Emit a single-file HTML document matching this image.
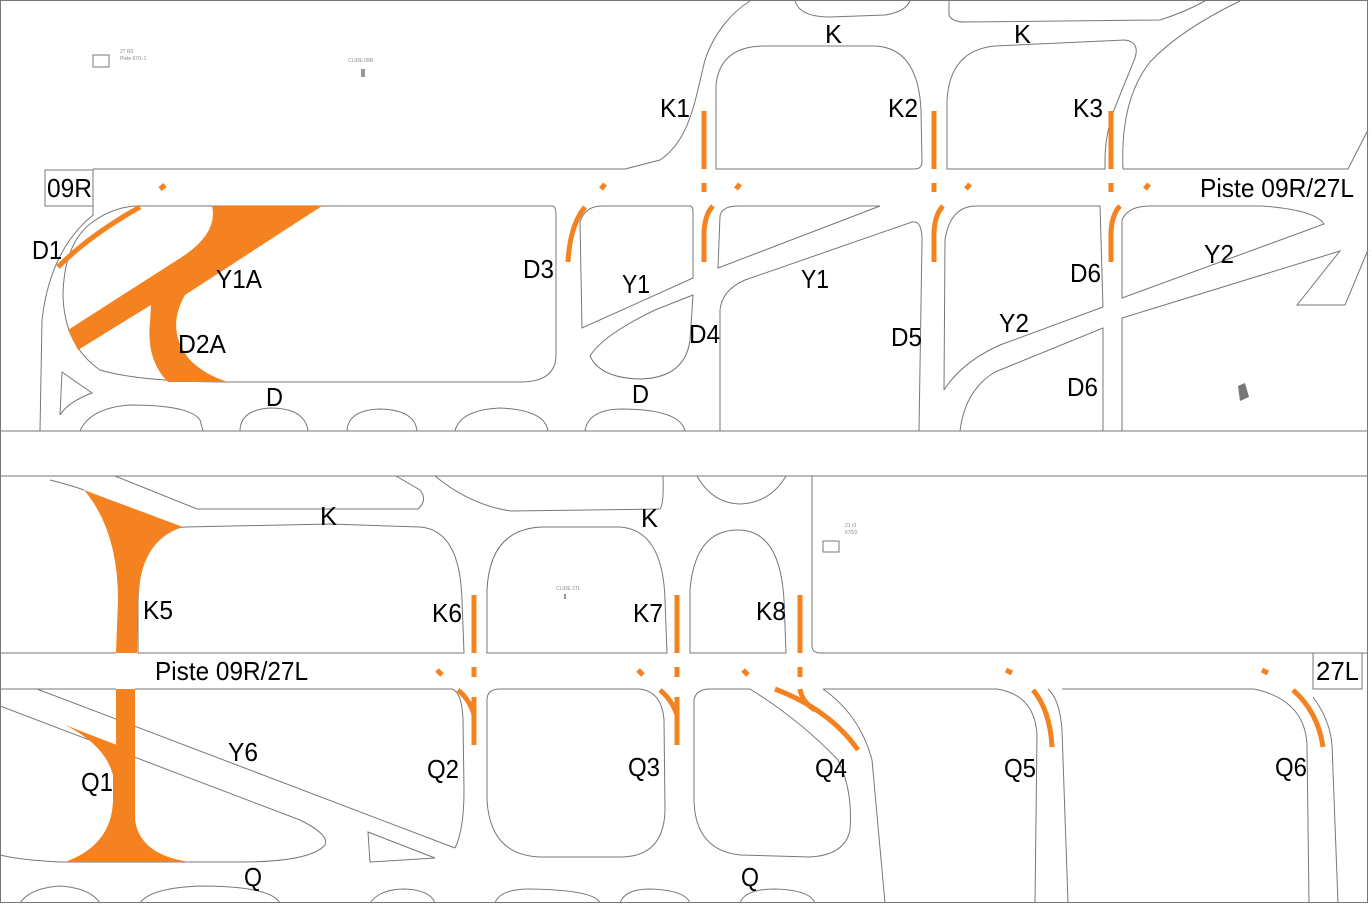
<!DOCTYPE html>
<html><head><meta charset="utf-8"><style>
html,body{margin:0;padding:0;background:#fff}
svg{display:block}
text{font-family:"Liberation Sans",sans-serif;fill:#000}
.l{fill:none;stroke:#777;stroke-width:1}
.o{fill:none;stroke:#f58220;stroke-width:5}
.of{fill:#f58220;stroke:none}
</style></head><body>
<svg width="1372" height="905" viewBox="0 0 1372 905" xmlns="http://www.w3.org/2000/svg">
<rect x="0.5" y="0.5" width="1367" height="902" class="l"/>
<line x1="0" y1="431" x2="1368" y2="431" class="l"/>
<line x1="0" y1="476" x2="1368" y2="476" class="l"/>

<rect x="45" y="170" width="48" height="36" class="l" stroke="#333"/>
<path class="l" d="M93,169 L625,169 L660,160 C690,140 695,100 705,60 C715,30 735,10 750,1"/>
<path class="l" d="M795,1 Q800,17 830,17 L885,15 Q905,12 910,1"/>
<path class="l" d="M949,1 L949,15 Q952,22 965,22 L1160,20 Q1185,12 1205,1"/>
<path class="l" d="M716,169 L716,85 Q720,46 765,46 L875,46 Q918,48 921,110 L922,162 Q922,169 914,169 Z"/>
<path class="l" d="M947,169 L947,100 Q950,50 995,46 L1125,40 Q1140,42 1135,58 L1118,100 Q1105,130 1105,160 L1105,169 Z"/>
<path class="l" d="M1123,169 Q1120,100 1150,62 Q1180,30 1240,1"/>
<path class="l" d="M1123,169 L1348,169 L1368,130"/>
<path class="l" d="M93,206 L93,215 Q50,250 42,320 L40,431"/>
<path class="l" d="M135,206 L552,206 Q556,206 556,215 L556,355 Q556,382 520,382 L230,382 Q140,382 100,370 Q64,345 63,295 Q64,245 90,224 Q110,208 135,206 Z"/>
<path class="l" d="M62,372 L92,393 Q68,402 60,415 Z"/>
<path class="l" d="M80,431 Q90,408 130,405 Q190,405 200,420 L203,431"/>
<path class="l" d="M240,431 Q240,410 270,408 Q305,408 308,431"/>
<path class="l" d="M347,431 Q348,410 380,409 Q415,410 417,431"/>
<path class="l" d="M455,431 Q460,410 500,408 Q545,410 548,431"/>
<path class="l" d="M585,431 Q588,410 620,409 Q680,409 685,431"/>
<path class="l" d="M580,222 Q585,206 602,206 L690,206 Q693,206 693,212 L693,278 L582,328 Z"/>
<path class="l" d="M693,295 L655,310 Q603,335 590,356 Q600,378 640,379 Q685,378 690,340 Z"/>
<path class="l" d="M720,216 Q722,206 738,206 L880,206 L718,268 Z"/>
<path class="l" d="M720,431 L720,310 Q722,290 745,280 L912,222 Q922,220 922,240 L919,431"/>
<path class="l" d="M944,390 L945,240 Q950,207 975,206 L1100,206 L1103,307 L1000,345 Q962,362 944,390"/>
<path class="l" d="M1103,431 L1103,328 L995,372 Q965,390 960,431"/>
<path class="l" d="M1122,298 L1122,220 Q1128,206 1150,206 L1262,206 Q1315,210 1324,224 Z"/>
<path class="l" d="M1122,431 L1122,318 L1340,251 L1297,305 L1345,305 L1368,250"/>
<polygon points="1238,386 1245,383 1249,397 1240,401" fill="#777"/>
<rect x="93" y="55" width="16" height="12" class="l"/>
<text x="120" y="53" font-size="5" style="fill:#888">27 R3</text>
<text x="120" y="60" font-size="5" style="fill:#888">Piste 670..1</text>
<text x="348" y="62" font-size="5" style="fill:#888">CLIDE 09R</text>
<rect x="361" y="69" width="4" height="8" fill="#999"/>

<path class="o" d="M58,267 Q90,235 140,207"/>
<path class="of" d="M212,206 L322,206 L185,295 Q165,330 190,360 Q205,375 228,382 L168,382 Q146,360 150,322 L151,305 L78,350 L68,330 L185,255 Q218,232 212,206 Z"/>
<path class="o" stroke-width="4" d="M568,262 Q570,225 585,207"/>
<g class="o" stroke-width="4">
<line x1="160" y1="189" x2="165" y2="185"/>
<line x1="601" y1="189" x2="605" y2="184"/>
<line x1="736" y1="189" x2="740" y2="184"/>
<line x1="966" y1="189" x2="970" y2="184"/>
<line x1="1145" y1="189" x2="1149" y2="184"/>
</g>
<g class="o">
<line x1="704" y1="111" x2="704" y2="169"/><line x1="704" y1="183" x2="704" y2="192"/>
<path d="M704,262 L704,232 Q705,214 713,206"/>
<line x1="934" y1="111" x2="934" y2="169"/><line x1="934" y1="183" x2="934" y2="192"/>
<path d="M934,262 L934,232 Q935,214 943,206"/>
<line x1="1111" y1="111" x2="1111" y2="169"/><line x1="1111" y1="183" x2="1111" y2="192"/>
<path d="M1111,262 L1111,232 Q1112,214 1120,206"/>
</g>

<g font-size="26">
<text x="825" y="43" textLength="17" lengthAdjust="spacingAndGlyphs">K</text><text x="1014" y="43" textLength="17" lengthAdjust="spacingAndGlyphs">K</text>
<text x="660" y="117" textLength="30" lengthAdjust="spacingAndGlyphs">K1</text><text x="888" y="117" textLength="30" lengthAdjust="spacingAndGlyphs">K2</text><text x="1073" y="117" textLength="30" lengthAdjust="spacingAndGlyphs">K3</text>
<text x="47" y="197" textLength="45" lengthAdjust="spacingAndGlyphs">09R</text>
<text x="1200" y="197" textLength="154" lengthAdjust="spacingAndGlyphs">Piste 09R/27L</text>
<text x="32" y="259" textLength="30" lengthAdjust="spacingAndGlyphs">D1</text><text x="216" y="288" textLength="46" lengthAdjust="spacingAndGlyphs">Y1A</text><text x="523" y="278" textLength="31" lengthAdjust="spacingAndGlyphs">D3</text>
<text x="622" y="293" textLength="28" lengthAdjust="spacingAndGlyphs">Y1</text><text x="801" y="288" textLength="28" lengthAdjust="spacingAndGlyphs">Y1</text><text x="1070" y="282" textLength="31" lengthAdjust="spacingAndGlyphs">D6</text>
<text x="1204" y="263" textLength="30" lengthAdjust="spacingAndGlyphs">Y2</text><text x="178" y="353" textLength="48" lengthAdjust="spacingAndGlyphs">D2A</text><text x="689" y="343" textLength="31" lengthAdjust="spacingAndGlyphs">D4</text>
<text x="891" y="346" textLength="31" lengthAdjust="spacingAndGlyphs">D5</text><text x="999" y="332" textLength="30" lengthAdjust="spacingAndGlyphs">Y2</text><text x="1067" y="396" textLength="31" lengthAdjust="spacingAndGlyphs">D6</text>
<text x="266" y="406" textLength="17" lengthAdjust="spacingAndGlyphs">D</text><text x="632" y="403" textLength="17" lengthAdjust="spacingAndGlyphs">D</text>
</g>

<path class="l" d="M50,480 Q70,485 84,490"/>
<path class="l" d="M115,476 L197,509 L418,509 Q428,500 420,490 L396,476"/>
<path class="l" d="M435,476 Q470,505 511,511 L660,509 Q664,505 663,476"/>
<path class="l" d="M697,476 Q712,503 740,504 Q770,503 786,476"/>
<path class="l" d="M812,476 L812,645 Q812,653 820,653 L1368,653"/>
<path class="l" d="M0,653 L116,653"/>
<path class="l" d="M138,653 L138,600 Q140,530 185,527 L330,524 L420,527 Q460,530 462,600 L464,653 Z"/>
<path class="l" d="M487,653 L487,590 Q490,527 545,527 L620,527 Q663,530 665,600 L667,653 Z"/>
<path class="l" d="M690,653 L690,590 Q695,530 738,530 Q780,530 784,600 L786,653 Z"/>
<rect x="1313" y="653" width="49" height="36" class="l" stroke="#333"/>
<path class="l" d="M0,689 L116,689"/>
<path class="l" d="M37,689 L455,848"/>
<path class="l" d="M135,689 L452,689 Q462,692 463,720 L464,790 Q464,830 455,848"/>
<path class="l" d="M0,706 L300,820 Q330,835 325,845 Q310,862 240,862 L60,862 Q20,860 0,855"/>
<path class="l" d="M368,832 L435,858 L370,862 Z"/>
<path class="l" d="M487,700 Q487,689 500,689 L640,689 Q662,692 664,720 L665,810 Q664,857 620,857 L540,857 Q490,855 487,800 Z"/>
<path class="l" d="M694,700 Q696,689 710,689 L750,689 Q800,720 838,760 Q853,790 850,830 Q845,855 810,857 L740,855 Q695,850 694,800 Z"/>
<path class="l" d="M823,689 L997,689 Q1035,695 1037,735 L1035,903"/>
<path class="l" d="M823,689 Q860,715 872,760 L885,903"/>
<path class="l" d="M1048,689 Q1060,700 1062,730 L1068,903"/>
<path class="l" d="M1062,689 L1254,689 Q1305,700 1307,745 L1309,903"/>
<path class="l" d="M1313,697 Q1330,720 1332,745 L1338,903"/>
<path class="l" d="M20,903 Q30,888 60,886 Q90,888 100,903"/>
<path class="l" d="M140,903 Q150,888 200,886 Q270,886 280,903"/>
<path class="l" d="M370,903 Q380,889 405,889 Q430,890 435,903"/>
<path class="l" d="M495,903 Q500,889 530,889 Q595,890 600,903"/>
<path class="l" d="M620,903 Q625,889 650,889 Q685,890 690,903"/>
<path class="l" d="M740,903 Q745,889 775,889 Q810,890 815,903"/>
<rect x="823" y="541" width="16" height="11" class="l"/>
<text x="845" y="527" font-size="5" style="fill:#888">21 r3</text>
<text x="845" y="534" font-size="5" style="fill:#888">670/2</text>
<text x="556" y="590" font-size="5" style="fill:#888">CLIDE 27L</text>
<rect x="564" y="594" width="2" height="5" fill="#999"/>

<path class="of" d="M84,490 L183,527 Q140,540 138,600 L137,653 L116,653 L118,600 Q118,530 84,490 Z"/>
<rect x="116" y="689" width="19" height="85" class="of"/>
<path class="of" d="M65,725 L135,752 L135,820 Q140,855 190,862 L65,862 Q112,845 113,800 L113,775 Q105,745 65,725 Z"/>
<g class="o" stroke-width="4">
<line x1="437" y1="670" x2="442" y2="675"/>
<line x1="638" y1="670" x2="643" y2="675"/>
<line x1="743" y1="670" x2="748" y2="675"/>
<line x1="1006" y1="670" x2="1012" y2="673"/>
<line x1="1262" y1="670" x2="1268" y2="673"/>
</g>
<g class="o">
<line x1="474" y1="595" x2="474" y2="653"/><line x1="474" y1="667" x2="474" y2="677"/>
<line x1="474" y1="697" x2="474" y2="745"/><path d="M458,690 Q470,700 474,715"/>
<line x1="677" y1="595" x2="677" y2="653"/><line x1="677" y1="667" x2="677" y2="677"/>
<line x1="677" y1="697" x2="677" y2="745"/><path d="M660,690 Q672,700 677,715"/>
<line x1="800" y1="595" x2="800" y2="653"/><line x1="800" y1="667" x2="800" y2="677"/>
<path d="M1033,690 Q1050,710 1052,747"/>
<path d="M1293,690 Q1318,712 1323,747"/>
</g>
<path class="o" stroke-width="7" d="M775,689 Q830,710 858,750"/>
<path class="o" d="M800,689 Q802,702 815,710"/>

<g font-size="26">
<text x="320" y="525" textLength="17" lengthAdjust="spacingAndGlyphs">K</text><text x="641" y="527" textLength="17" lengthAdjust="spacingAndGlyphs">K</text>
<text x="143" y="619" textLength="30" lengthAdjust="spacingAndGlyphs">K5</text><text x="432" y="622" textLength="30" lengthAdjust="spacingAndGlyphs">K6</text><text x="633" y="622" textLength="30" lengthAdjust="spacingAndGlyphs">K7</text><text x="756" y="620" textLength="30" lengthAdjust="spacingAndGlyphs">K8</text>
<text x="155" y="680" textLength="153" lengthAdjust="spacingAndGlyphs">Piste 09R/27L</text>
<text x="1316" y="680" textLength="43" lengthAdjust="spacingAndGlyphs">27L</text>
<text x="228" y="761" textLength="30" lengthAdjust="spacingAndGlyphs">Y6</text>
<text x="81" y="791" textLength="32" lengthAdjust="spacingAndGlyphs">Q1</text><text x="427" y="778" textLength="32" lengthAdjust="spacingAndGlyphs">Q2</text><text x="628" y="776" textLength="32" lengthAdjust="spacingAndGlyphs">Q3</text>
<text x="815" y="777" textLength="32" lengthAdjust="spacingAndGlyphs">Q4</text><text x="1004" y="777" textLength="32" lengthAdjust="spacingAndGlyphs">Q5</text><text x="1275" y="776" textLength="32" lengthAdjust="spacingAndGlyphs">Q6</text>
<text x="244" y="886" textLength="18" lengthAdjust="spacingAndGlyphs">Q</text><text x="741" y="886" textLength="18" lengthAdjust="spacingAndGlyphs">Q</text>
</g>
</svg>
</body></html>
